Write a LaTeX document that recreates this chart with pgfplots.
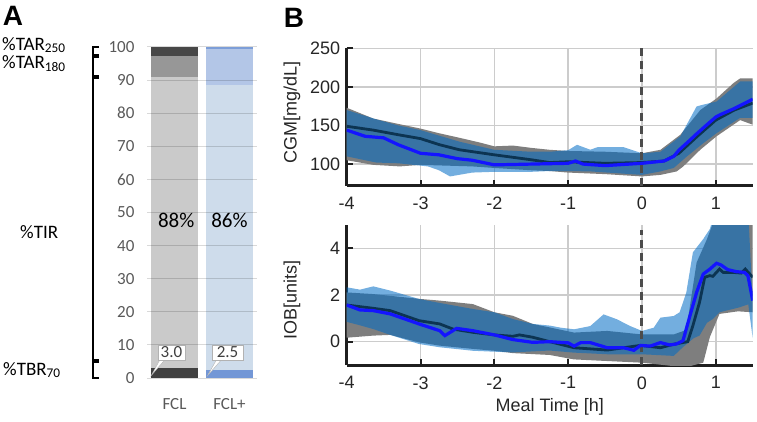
\documentclass[border=0pt]{standalone}
\usepackage{pgfplots}
\pgfplotsset{compat=1.18}
\usepgfplotslibrary{fillbetween}
\usepackage{fontspec}
\setmainfont{Liberation Sans}
\newfontfamily\calibri{Carlito}
\definecolor{fclTBR}{HTML}{404040}
\definecolor{fclTIR}{HTML}{CACACA}
\definecolor{fclTAa}{HTML}{979797}
\definecolor{fclTAb}{HTML}{474747}
\definecolor{pTBR}{HTML}{7397D6}
\definecolor{pTIR}{HTML}{CEDCEB}
\definecolor{pTAa}{HTML}{B3C6E7}
\definecolor{pTAb}{HTML}{7D9ED8}
\definecolor{bandgray}{HTML}{7E7E7E}
\definecolor{bandblue}{RGB}{0,107,196}
\definecolor{darkline}{RGB}{12,52,82}
\definecolor{blueline}{RGB}{20,20,255}
\pgfplotsset{mlstyle/.style={anchor=south west, scale only axis, width=406pt,
  xmin=-4, xmax=1.5, xtick={-4,...,1}, grid=major,
  grid style={black!20, line width=1.5pt},
  axis lines*=left, axis line style={line width=3pt, black!88},
  tick align=inside, major tick length=6pt, tick style={line width=2pt, black!88},
  /pgf/number format/assume math mode=true,
  ticklabel style={font=\fontsize{18}{18}\selectfont, text=black!85},
  xticklabel style={yshift=-8pt}, yticklabel style={xshift=-3pt},
  label style={font=\fontsize{18}{18}\selectfont, text=black!85}},
  panelA/.style={at={(147pt,43pt)}, anchor=south west, scale only axis,
  width=110pt, height=331pt, xmin=-0.5, xmax=1.5, ymin=0, ymax=100}}
\begin{document}
\begin{tikzpicture}

% ---------------- Panel A ----------------
\begin{axis}[panelA, hide axis, ybar stacked, bar width=47pt]
\addplot[fill=fclTBR, draw=none] coordinates {(0,3.0)};
\addplot[fill=fclTIR, draw=none] coordinates {(0,88.0)};
\addplot[fill=fclTAa, draw=none] coordinates {(0,6.3)};
\addplot[fill=fclTAb, draw=none] coordinates {(0,2.7)};
\end{axis}
\begin{axis}[panelA, ybar stacked, bar width=47pt, axis on top,
  ymajorgrids, grid style={black, opacity=0.15, line width=1pt},
  axis line style={draw=none}, major tick length=0pt,
  ytick={0,10,...,100}, xtick={0,1}, xticklabels={FCL,FCL+},
  /pgf/number format/assume math mode=true,
  ticklabel style={font=\calibri\fontsize{17}{17}\selectfont, text=black!65},
  yticklabel style={xshift=-9pt},
  xticklabel style={yshift=-17pt}]
\addplot[fill=pTBR, draw=none] coordinates {(1,2.5)};
\addplot[fill=pTIR, draw=none] coordinates {(1,86.0)};
\addplot[fill=pTAa, draw=none] coordinates {(1,11.0)};
\addplot[fill=pTAb, draw=none] coordinates {(1,0.5)};
\end{axis}
\begin{axis}[panelA, hide axis, clip=false]
\node[font=\calibri\fontsize{21}{21}\selectfont] at (axis cs:0.03,47.7) {88\%};
\node[font=\calibri\fontsize{21}{21}\selectfont] at (axis cs:1.0,47.7) {86\%};
\draw[black!30, fill=white] (axis cs:-0.25,6) -- (axis cs:-0.42,0.8) -- (axis cs:-0.15,6) -- cycle;
\draw[black!30, fill=white] (axis cs:0.78,6) -- (axis cs:0.6,0.7) -- (axis cs:0.88,6) -- cycle;
\node[draw=black!30, fill=white, font=\calibri\fontsize{17}{17}\selectfont, text=black!75,
  inner sep=2pt, minimum height=15pt, minimum width=27pt] at (axis cs:-0.055,7.7) {3.0};
\node[draw=black!30, fill=white, font=\calibri\fontsize{17}{17}\selectfont, text=black!75,
  inner sep=2pt, minimum height=15pt, minimum width=31pt] at (axis cs:0.964,7.7) {2.5};
\end{axis}

% brackets and range labels
\begin{scope}[line width=2pt]
\draw (99pt,374pt) -- (93pt,374pt) -- (93pt,366pt) -- (99pt,366pt);
\draw (99pt,364pt) -- (93pt,364pt) -- (93pt,345pt) -- (99pt,345pt);
\draw (99pt,343pt) -- (93pt,343pt) -- (93pt,61pt) -- (99pt,61pt);
\draw (99pt,59pt) -- (93pt,59pt) -- (93pt,43pt) -- (99pt,43pt);
\end{scope}
\begin{scope}[font=\calibri\fontsize{19}{19}\selectfont, inner sep=1pt]
\node[anchor=west] at (1pt,376pt) {\%TAR\textsubscript{250}};
\node[anchor=west] at (1pt,357pt) {\%TAR\textsubscript{180}};
\node[anchor=west] at (19pt,189pt) {\%TIR};
\node[anchor=west] at (2pt,51pt) {\%TBR\textsubscript{70}};
\end{scope}
\node[font=\bfseries\fontsize{28}{28}\selectfont] at (13pt,405pt) {A};
\node[font=\bfseries\fontsize{28}{28}\selectfont] at (294pt,403pt) {B};

% ---------------- Panel B: CGM ----------------
\begin{axis}[mlstyle, at={(346.7pt,235.3pt)}, height=137.4pt,
  ymin=72, ymax=250, ytick={100,150,200,250},
  ylabel={CGM[mg/dL]}, ylabel style={at={(axis description cs:-0.135,0.53)}, anchor=center}]
\addplot[name path=gu, draw=none] coordinates {(-4,173) (-3.64,159) (-3.3,152) (-3.0,146) (-2.75,140) (-2.47,134) (-2.2,128) (-2.0,123) (-1.75,124) (-1.5,121) (-1.25,118.5) (-1.0,117) (-0.5,116) (0,114) (0.25,118.5) (0.52,138) (0.79,170) (1.01,185) (1.24,205) (1.33,211) (1.5,211)};
\addplot[name path=gl, draw=none] coordinates {(-4,105) (-3.64,99) (-3.28,97) (-3.0,99) (-2.3,97) (-2.0,95) (-1.5,92) (-1.25,91) (-1.0,89) (-0.5,87) (0,84) (0.25,86) (0.47,90.5) (0.56,97) (0.79,118.6) (1.01,136) (1.33,157) (1.5,151)};
\addplot[fill=bandgray, draw=none] fill between[of=gu and gl];
\addplot[name path=bu, draw=none] coordinates {(-4,170) (-3.6,158) (-3.3,150) (-3.0,144) (-2.47,129) (-2.0,118.5) (-1.5,116) (-1.25,116) (-1.0,118) (-0.88,125) (-0.7,118.6) (-0.6,122) (-0.25,122) (0,114) (0.25,116) (0.52,136) (0.74,174.7) (0.83,177) (1.01,181) (1.33,207) (1.5,207)};
\addplot[name path=bl, draw=none] coordinates {(-4,110) (-3.6,102) (-3.3,101) (-2.9,97) (-2.75,92) (-2.6,84) (-2.3,89) (-2.0,90) (-1.5,90) (-1.25,91) (-1.0,91) (-0.7,90.5) (0,86) (0.25,90.5) (0.43,95) (0.61,110) (0.83,127) (1.01,140) (1.33,160) (1.5,160)};
\addplot[fill=bandblue, fill opacity=0.55, draw=none] fill between[of=bu and bl];
\addplot[black!70, line width=3pt, dash pattern=on 8pt off 5pt] coordinates {(0,72) (0,250)};
\addplot[darkline, line width=2.8pt] coordinates {(-4,149) (-3.64,144) (-3.3,138) (-3.0,133) (-2.74,125) (-2.47,118.5) (-2.0,112) (-1.5,105.6) (-1.25,102) (-1.0,103) (-0.5,101) (0,102) (0.3,104) (0.5,114) (0.75,136) (1.0,157) (1.25,170) (1.5,179)};
\addplot[blueline, line width=3.2pt] coordinates {(-4,144) (-3.75,136) (-3.5,134) (-3.3,125) (-3.0,114) (-2.75,112) (-2.5,107) (-2.3,105) (-2.0,99) (-1.5,100) (-1.0,101) (-0.9,104) (-0.8,100) (-0.5,98) (0,101) (0.3,104) (0.43,110) (0.5,118) (0.65,131) (0.75,140) (0.88,151) (1.0,161) (1.06,164) (1.25,172) (1.5,184)};
\end{axis}

% ---------------- Panel B: IOB ----------------
\begin{axis}[mlstyle, at={(346.7pt,56pt)}, height=140pt,
  ymin=-1, ymax=5, ytick={0,2,4},
  ylabel={IOB[units]}, ylabel style={at={(axis description cs:-0.135,0.464)}, anchor=center},
  xlabel={Meal Time [h]}, xlabel style={at={(axis description cs:0.5,-0.298)}, anchor=center}]
\addplot[name path=gu, draw=none] coordinates {(-4,2.11) (-3.64,2.04) (-3.0,1.83) (-2.74,1.76) (-2.29,1.61) (-2.0,1.26) (-1.75,1.11) (-1.48,0.76) (-1.25,0.61) (-0.92,0.39) (-0.47,0.46) (0,0.31) (0.43,0.31) (0.6,0.5) (0.74,3.39) (0.88,4.39) (1.01,5.5) (1.5,5.5)};
\addplot[name path=gl, draw=none] coordinates {(-4,0.17) (-3.64,0.26) (-3.41,0.29) (-3.02,-0.03) (-2.74,-0.17) (-2.29,-0.31) (-2.0,-0.39) (-1.75,-0.49) (-1.25,-0.57) (-0.92,-0.76) (-0.47,-0.83) (0,-0.9) (0.43,-1.05) (0.65,-1.05) (0.83,-0.9) (0.92,0.2) (1.05,1.19) (1.3,1.3) (1.5,1.26)};
\addplot[fill=bandgray, draw=none] fill between[of=gu and gl];
\addplot[name path=bu, draw=none] coordinates {(-4,2.33) (-3.82,2.23) (-3.64,2.37) (-3.41,2.19) (-3.02,1.83) (-2.74,1.66) (-2.29,1.40) (-2.0,1.26) (-1.75,0.97) (-1.48,0.76) (-1.25,0.69) (-1.1,0.6) (-0.92,0.53) (-0.7,0.67) (-0.52,1.17) (-0.34,0.96) (-0.16,0.67) (0,0.46) (0.16,0.6) (0.25,1.03) (0.43,1.1) (0.51,1.26) (0.6,2.1) (0.69,3.83) (0.83,4.4) (0.92,4.83) (0.98,5.5) (1.44,5.5) (1.5,1.7)};
\addplot[name path=bl, draw=none] coordinates {(-4,0.85) (-3.82,0.7) (-3.64,0.54) (-3.41,0.29) (-3.02,-0.1) (-2.74,-0.24) (-2.29,-0.39) (-2.0,-0.43) (-1.75,-0.46) (-1.25,-0.38) (-0.92,-0.47) (-0.47,-0.54) (0,-0.54) (0.43,-0.61) (0.55,-0.25) (0.7,0.15) (0.78,0.26) (0.88,0.81) (0.96,0.97) (1.05,1.26) (1.32,1.47) (1.44,1.6) (1.5,0.15)};
\addplot[fill=bandblue, fill opacity=0.55, draw=none] fill between[of=bu and bl];
\addplot[black!70, line width=3pt, dash pattern=on 8pt off 5pt] coordinates {(0,-1) (0,4.8)};
\addplot[darkline, line width=2.8pt] coordinates {(-4,1.57) (-3.64,1.43) (-3.41,1.33) (-3.02,0.9) (-2.74,0.76) (-2.56,0.54) (-2.29,0.4) (-2.0,0.29) (-1.75,0.23) (-1.66,0.29) (-1.48,0.19) (-1.25,0.0) (-0.92,-0.26) (-0.47,-0.36) (-0.25,-0.26) (-0.02,-0.16) (0.25,-0.26) (0.43,-0.11) (0.62,0.0) (0.69,0.69) (0.78,1.69) (0.85,2.76) (0.92,2.83) (0.96,2.8) (1.05,3.11) (1.1,2.97) (1.23,2.97) (1.345,2.94) (1.4,3.11) (1.5,2.76)};
\addplot[blueline, line width=3.2pt] coordinates {(-4,1.57) (-3.82,1.36) (-3.64,1.33) (-3.41,1.19) (-3.02,0.76) (-2.74,0.47) (-2.67,0.26) (-2.51,0.57) (-2.29,0.47) (-2.0,0.29) (-1.75,0.09) (-1.48,-0.03) (-1.25,0.0) (-1.0,-0.05) (-0.92,-0.19) (-0.83,-0.04) (-0.7,-0.04) (-0.47,-0.26) (-0.25,-0.26) (-0.11,-0.37) (-0.02,-0.16) (0.11,-0.19) (0.25,-0.04) (0.375,-0.14) (0.465,-0.1) (0.555,0.04) (0.65,1.11) (0.74,2.11) (0.83,2.9) (0.92,3.11) (1.01,3.36) (1.07,3.29) (1.16,3.09) (1.28,3.0) (1.39,2.97) (1.435,2.83) (1.5,1.76)};
\end{axis}
\pgfresetboundingbox
\path[use as bounding box] (0pt,0pt) rectangle (757pt,421pt);
\end{tikzpicture}
\end{document}
